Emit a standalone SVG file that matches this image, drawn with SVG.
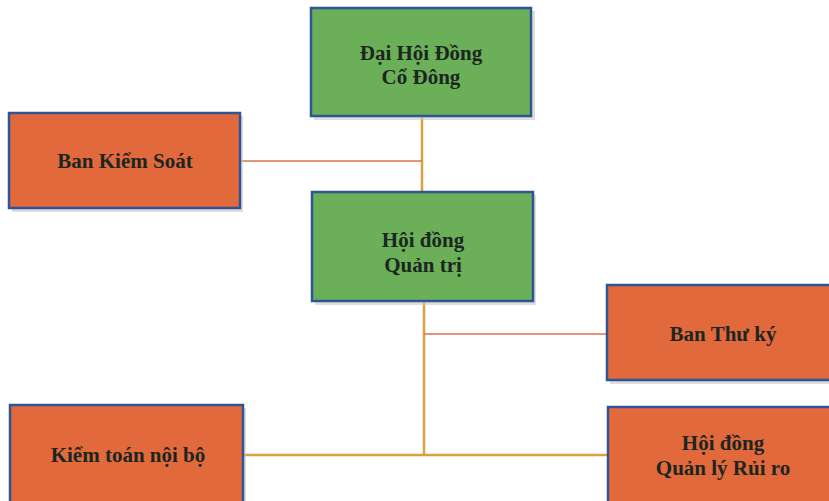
<svg xmlns="http://www.w3.org/2000/svg" width="829" height="501" viewBox="0 0 829 501">
<style>
.box{stroke:#2f5597;stroke-width:2.5}
.green{fill:#6bb058}
.orange{fill:#e2693c}
.shadow{fill:#c8c8c8;opacity:0.6}
.t{font-family:"Liberation Serif","Times New Roman",serif;font-weight:bold;font-size:21px;fill:#1c2620;text-anchor:middle}
.gold{stroke:#d9a23a;stroke-width:2.5;fill:none}
.red{stroke:#d9744e;stroke-width:1.5;fill:none}
</style>
<rect width="829" height="501" fill="#ffffff"/>
<g id="connectors">
<line class="gold" x1="422" y1="117" x2="422" y2="192"/>
<line class="red" x1="240" y1="161" x2="422" y2="161"/>
<line class="gold" x1="424" y1="302" x2="424" y2="455"/>
<line class="red" x1="424" y1="334" x2="607" y2="334"/>
<line class="gold" x1="243" y1="455" x2="608" y2="455"/>
</g>
<g id="dhcd">
<rect class="shadow" x="314" y="11" width="221" height="109"/>
<rect class="box green" x="311" y="8" width="220" height="108"/>
<text class="t" x="421" y="60">Đại Hội Đồng</text>
<text class="t" x="421" y="84">Cổ Đông</text>
</g>
<g id="bks">
<rect class="shadow" x="12" y="116" width="231" height="96"/>
<rect class="box orange" x="9" y="113" width="231" height="95"/>
<text class="t" x="125" y="168">Ban Kiểm Soát</text>
</g>
<g id="hdqt">
<rect class="shadow" x="315" y="195" width="221" height="110"/>
<rect class="box green" x="312" y="192" width="221" height="109"/>
<text class="t" x="423" y="247">Hội đồng</text>
<text class="t" x="423" y="272">Quản trị</text>
</g>
<g id="btk">
<rect class="shadow" x="610" y="288" width="222" height="96"/>
<rect class="box orange" x="607" y="285" width="224" height="95"/>
<text class="t" x="723" y="341">Ban Thư ký</text>
</g>
<g id="ktnb">
<rect class="shadow" x="13" y="408" width="233" height="96"/>
<rect class="box orange" x="10" y="405" width="233" height="100"/>
<text class="t" x="128" y="462">Kiểm toán nội bộ</text>
</g>
<g id="hdqlrr">
<rect class="shadow" x="611" y="410" width="222" height="96"/>
<rect class="box orange" x="608" y="407" width="224" height="100"/>
<text class="t" x="723" y="450">Hội đồng</text>
<text class="t" x="723" y="475">Quản lý Rủi ro</text>
</g>
</svg>
